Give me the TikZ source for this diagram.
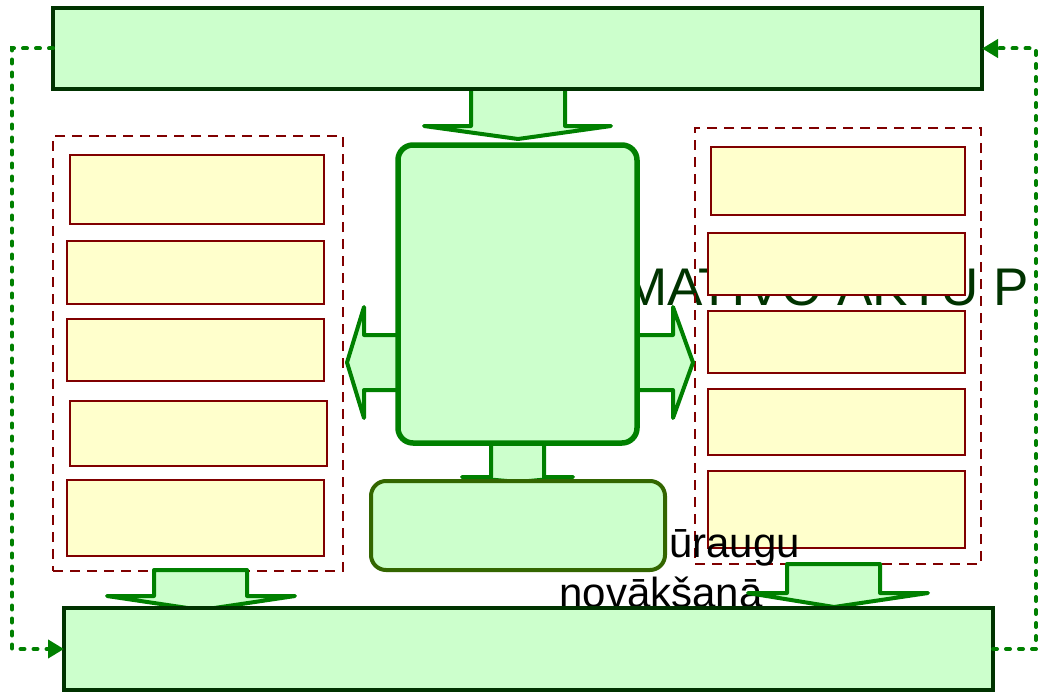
\documentclass[tikz,border=0pt]{standalone}
\usepackage{fontspec}
\setmainfont{Liberation Sans}
\usetikzlibrary{arrows.meta}
\definecolor{lgreen}{HTML}{CCFFCC}
\definecolor{dgreen}{HTML}{003300}
\definecolor{mgreen}{HTML}{008000}
\definecolor{olive}{HTML}{336600}
\definecolor{lyellow}{HTML}{FFFFCC}
\definecolor{dred}{HTML}{800000}
\tikzset{
  bigbox/.style={draw=dgreen, line width=4.5pt, fill=lgreen, inner sep=0pt, outer sep=0pt},
  corebox/.style={draw=mgreen, line width=5.5pt, fill=lgreen, rounded corners=15pt, inner sep=0pt, outer sep=0pt},
  subbox/.style={draw=olive, line width=4pt, fill=lgreen, rounded corners=15pt, inner sep=0pt, outer sep=0pt},
  groupbox/.style={draw=dred, line width=2.2pt, dash pattern=on 10pt off 7pt, inner sep=0pt, outer sep=0pt},
  itembox/.style={draw=dred, line width=2.2pt, fill=lyellow, inner sep=0pt, outer sep=0pt},
  blockarrow/.style={draw=mgreen, line width=4pt, fill=lgreen, line join=round, line cap=round},
  dotline/.style={draw=mgreen, line width=4pt, line cap=round, dash pattern=on 4pt off 9pt},
  bigtext/.style={text=dgreen, font=\fontsize{53}{53}\selectfont, inner sep=0pt},
  smalltext/.style={text=black, font=\fontsize{42}{48}\selectfont, inner sep=0pt},
}
\begin{document}
\begin{tikzpicture}[x=1pt,y=-1pt]
\useasboundingbox[fill=white] (0,0) rectangle (1038,693);

% background text (partly hidden)
\node[bigtext, anchor=base east] (norm) at (1029,305) {MATIVO AKTU P};

% left group
\node[groupbox, minimum width=290pt, minimum height=435pt] (lg) at (198,353.5) {};
\node[itembox, minimum width=254pt, minimum height=69pt] (l1) at (197,189.5) {};
\node[itembox, minimum width=257pt, minimum height=63pt] (l2) at (195.5,272.5) {};
\node[itembox, minimum width=257pt, minimum height=62pt] (l3) at (195.5,350) {};
\node[itembox, minimum width=257pt, minimum height=65pt] (l4) at (198.5,433.5) {};
\node[itembox, minimum width=257pt, minimum height=76pt] (l5) at (195.5,518) {};

% right group
\node[groupbox, minimum width=286pt, minimum height=436pt] (rg) at (838,346) {};
\node[itembox, minimum width=254pt, minimum height=68pt] (r1) at (838,181) {};
\node[itembox, minimum width=257pt, minimum height=62pt] (r2) at (836.5,264) {};
\node[itembox, minimum width=257pt, minimum height=62pt] (r3) at (836.5,342) {};
\node[itembox, minimum width=257pt, minimum height=66pt] (r4) at (836.5,422) {};
\node[itembox, minimum width=257pt, minimum height=77pt] (r5) at (836.5,509.5) {};

% partly hidden text
\node[smalltext, anchor=base east] (t1) at (800,557) {ūraugu};
\node[smalltext, anchor=base] (t2) at (661,607) {novākšanā};

% block arrows
\draw[blockarrow] (471,85) -- (471,126) -- (424,126) -- (518,139) -- (611,126) -- (565,126) -- (565,85) -- cycle;
\draw[blockarrow] (491,440) -- (491,477) -- (462,477) -- (518,482) -- (573,477) -- (544,477) -- (544,440) -- cycle;
\draw[blockarrow] (401,335) -- (364,335) -- (364,307) -- (347,362.5) -- (364,418) -- (364,390) -- (401,390) -- cycle;
\draw[blockarrow] (634,335) -- (673,335) -- (673,307) -- (693,362.5) -- (673,418) -- (673,390) -- (634,390) -- cycle;
\draw[blockarrow] (154,570) -- (154,596) -- (107,596) -- (201,610) -- (295,596) -- (247,596) -- (247,570) -- cycle;
\draw[blockarrow] (787,564) -- (787,593) -- (748,593) -- (834,607) -- (928,593) -- (880,593) -- (880,564) -- cycle;

% main boxes
\node[corebox, minimum width=239pt, minimum height=298pt] (core) at (517.5,294) {};
\node[subbox, minimum width=294pt, minimum height=89pt] (sub) at (518,525.5) {};
\node[bigbox, minimum width=929pt, minimum height=81pt] (top) at (517.5,48.5) {};
\node[bigbox, minimum width=929pt, minimum height=82pt] (bot) at (528.5,649) {};

% feedback connectors
\coordinate (lc) at (12,48.5);
\coordinate (rc) at (1036,649);
\draw[dotline, -{Triangle[length=16pt,width=18pt]}] (top.west) -- (lc) |- (bot.west);
\draw[dotline, -{Triangle[length=16pt,width=18pt]}] (bot.east) -- (rc) |- (top.east);
\end{tikzpicture}
\end{document}
